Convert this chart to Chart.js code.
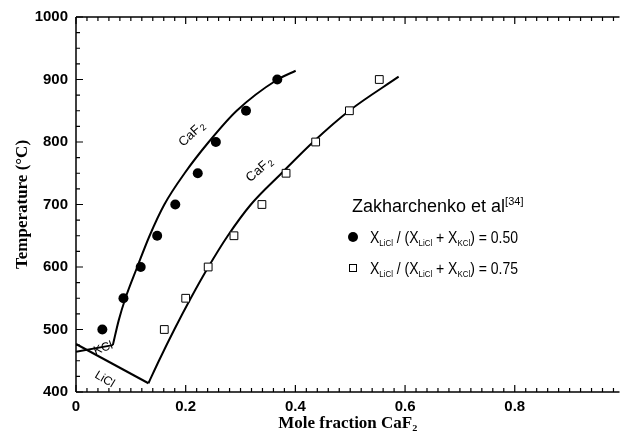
<!DOCTYPE html>
<html>
<head>
<meta charset="utf-8">
<script src="https://cdn.jsdelivr.net/npm/chart.js@4/dist/chart.umd.min.js"></script>
<style>
  html, body { margin: 0; padding: 0; background: #fff; }
  #wrap { width: 626px; height: 438px; }
</style>
</head>
<body>
<div id="wrap"><canvas id="c" width="626" height="438"></canvas></div>
<script>
// Measured liquidus temperatures (°C)
const temps = [500, 550, 600, 650, 700, 750, 800, 850, 900];
// Mole fraction CaF2 at each temperature, X_LiCl/(X_LiCl+X_KCl) = 0.50
const xRatio050 = [0.048, 0.0865, 0.118, 0.148, 0.181, 0.222, 0.255, 0.31, 0.367];
// Mole fraction CaF2 at each temperature, X_LiCl/(X_LiCl+X_KCl) = 0.75
const xRatio075 = [0.161, 0.200, 0.241, 0.288, 0.339, 0.383, 0.437, 0.4985, 0.553];

// Calculated CaF2 liquidus, ratio 0.50
const caf2CurveAX = [0.0672, 0.078, 0.0901, 0.1117, 0.1342, 0.1611, 0.198, 0.242, 0.293, 0.3676, 0.4005];
const caf2CurveAT = [475, 515, 550, 600, 650, 700, 750, 800, 850, 900, 914];
// Calculated CaF2 liquidus, ratio 0.75
const caf2CurveBX = [0.1321, 0.1512, 0.1793, 0.2092, 0.2413, 0.2768, 0.3189, 0.3748, 0.4324, 0.4982, 0.5883];
const caf2CurveBT = [414, 450, 500, 550, 600, 650, 700, 750, 800, 850, 904.5];
// KCl and LiCl primary-phase boundaries
const kclLineX = [0, 0.0672];
const kclLineT = [464.5, 475];
const liclLineX = [0, 0.1321];
const liclLineT = [476.8, 414];

// Axis ticks
const xTickValues = [0, 0.2, 0.4, 0.6, 0.8];
const yTickValues = [400, 500, 600, 700, 800, 900, 1000];

const pts = (xs, ys) => xs.map((x, i) => ({ x: x, y: ys[i] }));

const SANS = '"Liberation Sans", Arial, Helvetica, sans-serif';
const SERIF = '"Liberation Serif", "Times New Roman", serif';

// Axis frame with inward ticks (left, bottom, top)
const framePlugin = {
  id: 'frame',
  afterDatasetsDraw(chart) {
    const { ctx, chartArea: a, scales: { x, y } } = chart;
    ctx.save();
    ctx.strokeStyle = '#000';
    ctx.lineWidth = 1.5;
    ctx.beginPath();
    ctx.moveTo(a.left, a.top); ctx.lineTo(a.right, a.top);
    ctx.moveTo(a.left, a.top); ctx.lineTo(a.left, a.bottom);
    ctx.moveTo(a.left, a.bottom); ctx.lineTo(a.right, a.bottom);
    ctx.stroke();
    ctx.lineWidth = 1.2;
    ctx.beginPath();
    for (let i = 0; i <= 60; i++) {
      const v = i * 0.02;
      if (v > x.max) break;
      const px = x.getPixelForValue(v);
      const len = (i % 10 === 0) ? 7 : 4;
      ctx.moveTo(px, a.bottom); ctx.lineTo(px, a.bottom - len);
      ctx.moveTo(px, a.top); ctx.lineTo(px, a.top + len);
    }
    for (let t = 400; t <= 1000; t += 25) {
      const py = y.getPixelForValue(t);
      const len = (t % 100 === 0) ? 7 : 4;
      ctx.moveTo(a.left, py); ctx.lineTo(a.left + len, py);
    }
    ctx.stroke();
    ctx.restore();
  }
};

// Phase-field labels placed in data coordinates
const phaseLabels = [
  { main: 'CaF', sub: '2', x: 0.21, t: 814, angle: -43, size: 13 },
  { main: 'CaF', sub: '2', x: 0.3333, t: 757, angle: -41, size: 13 },
  { main: 'KCl', sub: '', x: 0.049, t: 471.5, angle: -20, size: 12 },
  { main: 'LiCl', sub: '', x: 0.053, t: 421.5, angle: 31, size: 12 }
];

const labelPlugin = {
  id: 'phaseLabels',
  afterDatasetsDraw(chart) {
    const { ctx, scales: { x, y } } = chart;
    ctx.save();
    ctx.fillStyle = '#000';
    ctx.textBaseline = 'alphabetic';
    phaseLabels.forEach(l => {
      const px = x.getPixelForValue(l.x);
      const py = y.getPixelForValue(l.t);
      ctx.font = l.size + 'px ' + SANS;
      const w1 = ctx.measureText(l.main).width;
      ctx.font = Math.round(l.size * 0.7) + 'px ' + SANS;
      const w2 = l.sub ? ctx.measureText(l.sub).width + 1 : 0;
      ctx.save();
      ctx.translate(px, py);
      ctx.rotate(l.angle * Math.PI / 180);
      const x0 = -(w1 + w2) / 2;
      const base = l.size * 0.36;
      ctx.font = l.size + 'px ' + SANS;
      ctx.fillText(l.main, x0, base);
      if (l.sub) {
        ctx.font = Math.round(l.size * 0.7) + 'px ' + SANS;
        ctx.fillText(l.sub, x0 + w1 + 1, base + 2);
      }
      ctx.restore();
    });
    ctx.restore();
  }
};

// Rich text with sub/superscripts, squeezed to a given width
function drawRich(ctx, x, baseline, segs, targetWidth) {
  let total = 0;
  segs.forEach(s => { ctx.font = s.size + 'px ' + SANS; s.w = ctx.measureText(s.t).width; total += s.w; });
  const k = targetWidth ? targetWidth / total : 1;
  ctx.save();
  ctx.translate(x, baseline);
  ctx.scale(k, 1);
  let cx = 0;
  segs.forEach(s => {
    ctx.font = s.size + 'px ' + SANS;
    ctx.fillText(s.t, cx, s.dy || 0);
    cx += s.w;
  });
  ctx.restore();
}

const ratioRow = (val) => [
  { t: 'X', size: 16 }, { t: 'LiCl', size: 9, dy: 3 },
  { t: ' / (X', size: 16 }, { t: 'LiCl', size: 9, dy: 3 },
  { t: ' + X', size: 16 }, { t: 'KCl', size: 9, dy: 3 },
  { t: ') = ' + val, size: 16 }
];

const legendPlugin = {
  id: 'sourceLegend',
  afterDatasetsDraw(chart) {
    const ctx = chart.ctx;
    ctx.save();
    ctx.fillStyle = '#000';
    ctx.textBaseline = 'alphabetic';
    drawRich(ctx, 352, 212, [
      { t: 'Zakharchenko et al', size: 18 },
      { t: '[34]', size: 11, dy: -7 }
    ]);
    // filled circle marker
    ctx.beginPath();
    ctx.arc(353, 237, 5, 0, Math.PI * 2);
    ctx.fill();
    drawRich(ctx, 370, 243, ratioRow('0.50'), 148);
    // open square marker
    ctx.strokeStyle = '#000';
    ctx.lineWidth = 1;
    ctx.fillStyle = '#fff';
    ctx.fillRect(349, 264, 8, 8);
    ctx.strokeRect(349.5, 264.5, 7, 7);
    ctx.fillStyle = '#000';
    drawRich(ctx, 370, 274, ratioRow('0.75'), 148);
    ctx.restore();
  }
};

const lineStyle = {
  showLine: true, pointRadius: 0, borderColor: '#000', borderWidth: 2,
  fill: false, order: 2
};

new Chart(document.getElementById('c'), {
  type: 'scatter',
  data: {
    datasets: [
      { label: '0.50', data: pts(xRatio050, temps), pointStyle: 'circle', pointRadius: 5,
        backgroundColor: '#000', borderColor: '#000', borderWidth: 0, order: 0 },
      { label: '0.75', data: pts(xRatio075, temps), pointStyle: 'rect', pointRadius: 5.5,
        backgroundColor: '#fff', borderColor: '#000', borderWidth: 1, order: 0 },
      Object.assign({ label: 'CaF2 0.50', data: pts(caf2CurveAX, caf2CurveAT), cubicInterpolationMode: 'monotone' }, lineStyle),
      Object.assign({ label: 'CaF2 0.75', data: pts(caf2CurveBX, caf2CurveBT), cubicInterpolationMode: 'monotone' }, lineStyle),
      Object.assign({ label: 'KCl', data: pts(kclLineX, kclLineT), tension: 0 }, lineStyle),
      Object.assign({ label: 'LiCl', data: pts(liclLineX, liclLineT), tension: 0 }, lineStyle)
    ]
  },
  options: {
    responsive: false,
    animation: false,
    devicePixelRatio: 1,
    layout: { padding: { top: 17, left: 0, right: 0, bottom: 0 } },
    plugins: { legend: { display: false }, tooltip: { enabled: false } },
    scales: {
      x: {
        type: 'linear', min: 0, max: 0.991,
        afterBuildTicks: s => { s.ticks = xTickValues.map(v => ({ value: v })); },
        afterFit: s => { s.height = 46; },
        grid: { display: false, drawTicks: false },
        border: { display: false },
        ticks: { color: '#000', padding: 6, maxRotation: 0, autoSkip: false,
          font: { family: SANS, size: 15, weight: 'bold' },
          callback: v => String(v) },
        title: { display: true, text: 'Mole fraction CaF₂', color: '#000',
          font: { family: SERIF, size: 17, weight: 'bold' }, padding: { top: 0, bottom: 4 } }
      },
      y: {
        type: 'linear', min: 400, max: 1000,
        afterBuildTicks: s => { s.ticks = yTickValues.map(v => ({ value: v })); },
        afterFit: s => { s.width = 76; },
        grid: { display: false, drawTicks: false },
        border: { display: false },
        ticks: { color: '#000', padding: 8, autoSkip: false,
          font: { family: SANS, size: 15, weight: 'bold' },
          callback: v => String(v) },
        title: { display: true, text: 'Temperature (°C)', color: '#000',
          font: { family: SERIF, size: 17, weight: 'bold' }, padding: { top: 12, bottom: 0 } }
      }
    }
  },
  plugins: [framePlugin, labelPlugin, legendPlugin]
});
</script>
</body>
</html>
